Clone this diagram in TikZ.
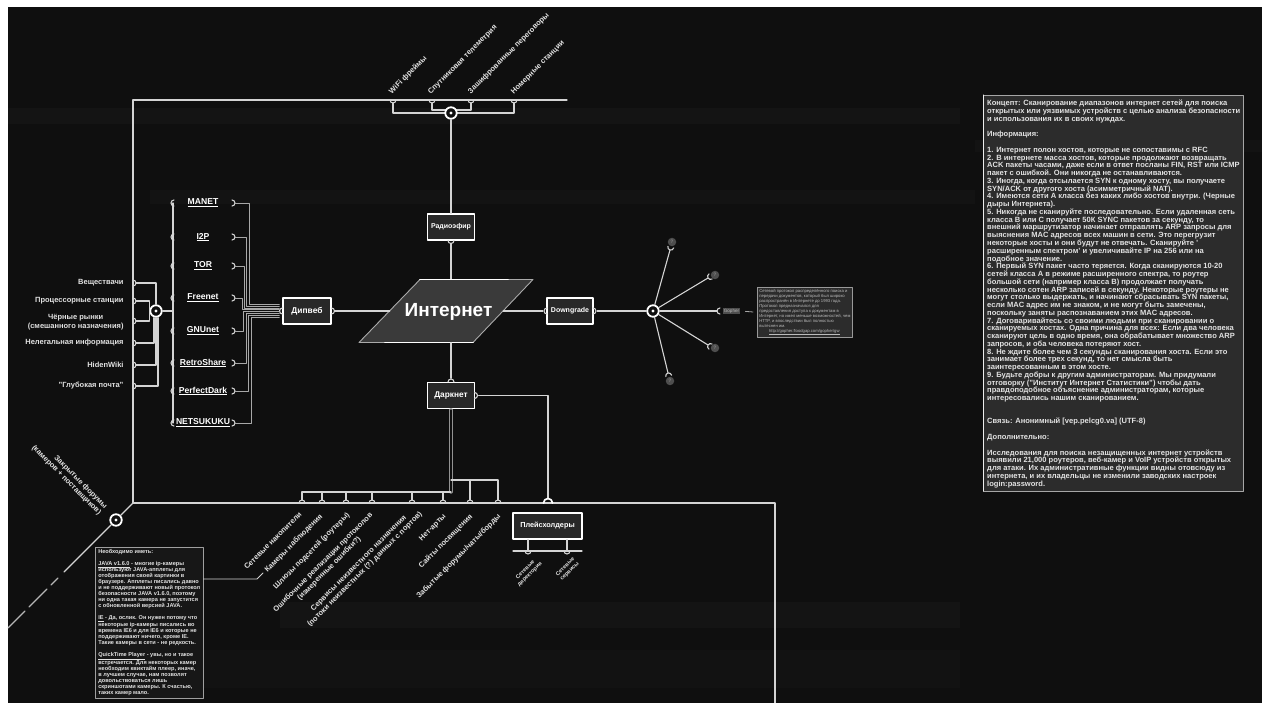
\documentclass[tikz,border=0pt]{standalone}
\usepackage{fontspec}
\setmainfont{Liberation Sans}
\usetikzlibrary{calc}
\definecolor{bg}{HTML}{0F0F0F}
\definecolor{lc}{HTML}{D4D4D4}
\definecolor{boxf}{HTML}{282828}
\definecolor{txt}{HTML}{E2E2E2}
\definecolor{panelf}{HTML}{2C2C2C}
\definecolor{needf}{HTML}{171717}
\definecolor{qc}{HTML}{4E4E4E}
\definecolor{bundle}{HTML}{A8A8A8}
\definecolor{inetf}{HTML}{3A3A3A}
\definecolor{gtx}{HTML}{BBBBBB}
\newcommand\hcR[2]{\draw[ln] (#1,#2-3) arc[start angle=-90,end angle=90,radius=3];}
\newcommand\hcL[2]{\draw[ln] (#1,#2-3) arc[start angle=-90,end angle=-270,radius=3];}
\newcommand\hcU[2]{\draw[ln] (#1-3,#2) arc[start angle=180,end angle=360,radius=3];}
\newcommand\hcD[2]{\draw[ln] (#1-3,#2) arc[start angle=180,end angle=0,radius=3];}
\newcommand\spk[2]{\draw[ln] (#1) ++(#2:3) ++(#2+90:3) arc[start angle=#2+90,end angle=#2+270,radius=3];}
\begin{document}
\begin{tikzpicture}[x=1pt,y=-1pt,line cap=round,line join=round,
  ln/.style={draw=lc,line width=1.1pt},
  bl/.style={draw=bundle,line width=0.85pt},
  boxn/.style={draw=white,line width=1.4pt,fill=boxf,text=white,inner sep=0pt,minimum height=26pt},
  lbl/.style={text=txt,inner sep=0.3pt,font=\bfseries\fontsize{7.5}{8.6}\selectfont},
  netl/.style={text=white,inner sep=0pt,font=\bfseries\fontsize{8.6}{9}\selectfont},
  hub/.style={circle,draw=white,line width=1.8pt,fill=bg,minimum size=11.5pt,inner sep=0pt},
  qm/.style={circle,fill=qc,minimum size=8.5pt,inner sep=0pt,text=gray,font=\bfseries\fontsize{5}{5}\selectfont}]
\useasboundingbox (0,0) rectangle (1262,703);
\fill[white] (0,0) rectangle (1262,703);
\fill[bg] (8,7) rectangle (1262,703);
% faint scan bands
\fill[white,opacity=0.022] (8,108) rectangle (960,124);
\fill[white,opacity=0.018] (150,190) rectangle (975,204);
\fill[white,opacity=0.022] (280,602) rectangle (960,628);
\fill[white,opacity=0.014] (150,650) rectangle (960,688);
\fill[white,opacity=0.018] (975,140) rectangle (1262,152);

% frame
\coordinate (fTL) at (133,100);
\coordinate (fTR) at (567,100);
\coordinate (fBL) at (133,503);
\coordinate (fBR) at (775,503);
\coordinate (fBE) at (775,703);
\draw[ln] (fTR) -- (fTL) -- (fBL) -- (fBR) -- (fBE);

% top bracket
\foreach \x in {393,432,471,514} {\hcD{\x}{100}}
\draw[ln] (393,103) -- (393,113) -- (514,113) -- (514,103);
\draw[ln] (432,103) -- (432,110) -- (471,110) -- (471,103);

% hubs
\node[hub] (hubT) at (451,113) {};
\node[hub] (hubL) at (156,311) {};
\node[hub] (hubR) at (653,311) {};
\node[hub] (hubD) at (116,520) {};
\foreach \h in {hubT,hubL,hubR,hubD} {\fill[white] (\h) circle[radius=1.7];}

% diagonal
\coordinate (d1) at (64,572);
\coordinate (d2) at (58,578);
\coordinate (d3) at (51,585);
\coordinate (d4) at (47,589);
\coordinate (d5) at (29,607);
\coordinate (d6) at (25,611);
\coordinate (d7) at (8,628);
\draw[ln] (fBL) -- (hubD);
\draw[ln] (hubD) -- (d1);
\draw[ln,draw opacity=0.85] (d2) -- (d3) (d4) -- (d5) (d6) -- (d7);
\node[lbl,rotate=-45,anchor=north east,align=right] (closed) at (109,505) {Закрытые форумы\\(камеров + поставщиков)};

% top labels
\node[lbl,rotate=45,anchor=south west] (t1) at (393,96) {WiFi фреймы};
\node[lbl,rotate=45,anchor=south west] (t2) at (432,96) {Спутниковая телеметрия};
\node[lbl,rotate=45,anchor=south west] (t3) at (472,96) {Зашифрованные переговоры};
\node[lbl,rotate=45,anchor=south west] (t4) at (515,96) {Номерные станции};

% radio
\node[boxn,minimum width=47pt,font=\bfseries\fontsize{7}{8}\selectfont] (radio) at (451,227) {Радиоэфир};
\hcD{451}{240.5}
\draw[ln] (hubT) -- (radio);

% internet
\node[inner sep=0pt,minimum width=113pt,minimum height=63pt] (inet) at (446.5,311) {};
\draw[ln] ([yshift=-3.5pt]radio.south) -- (radio.south |- inet.north);
\fill[inetf] (420,279.5) -- (533,279.5) -- (473,342.5) -- (359,342.5) -- cycle;
\draw[draw=lc!80!black,line width=0.9pt] (420,279.5) -- (533,279.5) -- (473,342.5) -- (359,342.5) -- cycle;
\draw[white,line width=1.8pt] (420,279.5) -- (508,279.5) (385,342.5) -- (473,342.5);
\node[anchor=base,inner sep=0pt,text=white,font=\bfseries\fontsize{19}{20}\selectfont] (inettext) at (448.5,317) {Интернет};

% boxes
\node[boxn,minimum width=48pt,font=\bfseries\fontsize{8.4}{9}\selectfont] (dip) at (307,311) {Дипвеб};
\hcL{282.5}{311} \hcR{331.5}{311}
\node[boxn,minimum width=46pt,font=\bfseries\fontsize{7}{8}\selectfont] (down) at (570,311) {Downgrade};
\hcL{547}{311} \hcR{593}{311}
\node[boxn,minimum width=47pt,font=\bfseries\fontsize{8.3}{9}\selectfont] (dark) at (451,395.5) {Даркнет};
\hcU{451}{382} \hcR{474.5}{395.5}

\draw[ln] ([xshift=3.5pt]dip.east) -- (inet.west);
\draw[ln] (inet.east) -- ([xshift=-3.5pt]down.west);
\draw[ln] (dark.north |- inet.south) -- ([yshift=3.5pt]dark.north);
\draw[ln] ([xshift=3.5pt]down.east) -- (hubR);

% darknet right branch
\coordinate (dk1) at (548,395.5);
\coordinate (hubB) at (548,503);
\draw[ln] ([xshift=3.5pt]dark.east) -- (dk1) -- ($(hubB)+(0,-4.5)$);
\draw[white,line width=1.7pt] ($(hubB)+(-4.5,0)$) arc[start angle=180,end angle=360,radius=4.5];

% darknet bottom comb
\coordinate (dkb) at (451,492);
\coordinate (c1) at (451,480);
\draw[draw=gray!85!white,line width=3.4pt] ([yshift=-0.7pt]dark.south) -- (dkb);
\draw[draw=bg,line width=1.1pt] ([yshift=-0.7pt]dark.south) -- (dkb);
\draw[ln] (c1) -- (498,480) -- (498,500);
\draw[ln] (470,480) -- (470,500);
\draw[ln] (dkb) -- (302,492) -- (302,500);
\foreach \x in {322,346,372,412,443} {\draw[ln] (\x,492) -- (\x,500);}
\foreach \x in {302,322,346,372,412,443,470,498} {\hcU{\x}{503}}

\node[lbl,rotate=45,anchor=north east,align=center] (b1) at (298.5,510.5) {Сетевые накопители};
\node[lbl,rotate=45,anchor=north east,align=center] (b2) at (319,512.5) {Камеры наблюдения};
\node[lbl,rotate=45,anchor=north east,align=center] (b3) at (346,511) {Шлюзы подсетей (роутеры)};
\node[lbl,rotate=45,anchor=north east,align=center] (b4) at (369,511) {Ошибочные реализации протоколов\\(измеренные ошибки?)};
\node[lbl,rotate=45,anchor=north east,align=center] (b5) at (412.6,504.2) {Сервисы неизвестного назначения\\(потоки неизвестных (?) данных с портов)};
\node[lbl,rotate=45,anchor=north east,align=center] (b6) at (442.5,512.5) {Нет-арты};
\node[lbl,rotate=45,anchor=north east,align=center] (b7) at (469,512.5) {Сайты посвящения};
\node[lbl,rotate=45,anchor=north east,align=center] (b8) at (497,512.5) {Забытые форумы/чаты/борды};

% placeholders
\node[boxn,minimum width=69pt,font=\bfseries\fontsize{7.3}{8}\selectfont] (ph) at (547.5,526) {Плейсхолдеры};
\coordinate (ph1) at (528,551);
\coordinate (ph2) at (567,551);
\coordinate (phL) at (513,551);
\coordinate (phR) at (582,551);
\draw[ln] (ph1 |- ph.south) -- (ph1);
\draw[ln] (ph2 |- ph.south) -- (ph2);
\draw[ln] (phL) -- (phR);
\hcD{528}{551} \hcD{567}{551}
\node[lbl,rotate=45,anchor=north east,align=center,font=\bfseries\fontsize{5.5}{6.3}\selectfont] (p1) at (535,556) {Сетевые\\директории};
\node[lbl,rotate=45,anchor=north east,align=center,font=\bfseries\fontsize{5.5}{6.3}\selectfont] (p2) at (572,556) {Сетевые\\сервисы};

% left labels
\foreach \y in {283,301,321,343,365,386} {\hcR{133}{\y}}
\node[lbl,anchor=east] (l1) at (124,283) {Веществачи};
\node[lbl,anchor=east] (l2) at (124,301) {Процессорные станции};
\node[lbl,anchor=east,align=center] (l3) at (124,322) {Чёрные рынки\\(смешанного назначения)};
\node[lbl,anchor=east] (l4) at (124,343) {Нелегальная информация};
\node[lbl,anchor=east] (l5) at (124,365) {HidenWiki};
\node[lbl,anchor=east] (l6) at (124,386) {"Глубокая почта"};
\draw[ln] (136,283) -| (hubL.north);
\draw[ln] (136,301) -| (hubL.west);
\draw[ln] (136,321) -| (hubL.west);
\draw[ln] (136,343) -| ([xshift=-2pt]hubL.south);
\draw[ln] (136,365) -| (hubL.south);
\draw[ln] (136,386) -| ([xshift=2pt]hubL.south);

% nets spine
\coordinate (spT) at (173,203);
\coordinate (spB) at (173,423);
\coordinate (spM) at (173,311);
\draw[ln] (spT) -- (spB);
\draw[ln] (hubL) -- (spM);
\foreach \nm/\tx/\yy/\xx/\of in {manet/MANET/203/249/-6.5, i2p/I2P/237/246.5/-4.7, tor/TOR/266/244.5/-2.9, freenet/Freenet/298/242/-1.1, gnunet/GNUnet/331/243.5/0.7, retro/RetroShare/363/246/2.5, perfect/PerfectDark/391/248.5/4.3, netsu/NETSUKUKU/423/251/6.1}{
  \node[netl] (\nm) at (203,\yy) {\underline{\tx}};
  \hcL{174}{\yy}
  \hcR{232}{\yy}
  \draw[bl] (235,\yy) -| (\xx,311+\of) -- ($(dip.west)+(-3,\of)$);
}

% gopher fan
\coordinate (g1) at (670,250);
\coordinate (g2) at (708,278);
\coordinate (g3) at (717,311);
\coordinate (g4) at (708,345);
\coordinate (g5) at (668,373);
\foreach \g in {g1,g2,g3,g4,g5} {\draw[ln] (hubR) -- (\g);}
\spk{g1}{-74.4} \spk{g2}{-31} \spk{g3}{0} \spk{g4}{31.7} \spk{g5}{76.4}
\node[qm] (q1) at (672,242) {?};
\node[qm] (q2) at (715,275) {?};
\node[qm] (q4) at (715,348) {?};
\node[qm] (q5) at (670,381) {?};
\node[fill=qc,inner sep=1pt,text=gtx,font=\fontsize{4.6}{5}\selectfont] (gopher) at (731.5,311) {Gopher};
\node[draw=gray!80,line width=0.6pt,fill=panelf,anchor=north west,align=left,inner sep=2pt,minimum width=95pt,minimum height=49pt,text=gtx,font=\fontsize{4.2}{5}\selectfont] (gdesc) at (757,287) {Сетевой протокол распределённого поиска и\\передачи документов, который был широко\\распространён в Интернете до 1993 года.\\Протокол предназначался для\\предоставления доступа к документам в\\Интернет, но имел меньше возможностей, чем\\HTTP, и впоследствии был полностью\\вытеснен им.\\\makebox[90pt][c]{\underline{http://gopher.floodgap.com/gopher/gw}}};
\draw[draw=gray!70,line width=0.8pt,shorten <=5pt,shorten >=4pt] (gopher.east) -- (gdesc.west);

% requirements box
\node[draw=gray!75,line width=0.6pt,fill=needf,anchor=north west,align=left,inner sep=2.2pt,minimum width=108pt,minimum height=151pt,text=txt,font=\bfseries\fontsize{5.6}{6}\selectfont] (need) at (95,547) {Необходимо иметь:\\\mbox{}\\\underline{JAVA v1.6.0} - многие ip-камеры\\используют JAVA-апплеты для\\отображения своей картинки в\\браузере. Апплеты писались давно\\и не поддерживают новый протокол\\безопасности JAVA v1.6.0, поэтому\\ни одна такая камера не запустится\\с обновленной версией JAVA.\\\mbox{}\\\underline{IE} - Да, ослик. Он нужен потому что\\некоторые ip-камеры писались во\\времена IE6 и для IE6 и которые не\\поддерживают ничего, кроме IE.\\Такие камеры в сети - не редкость.\\\mbox{}\\\underline{QuickTime Player} - увы, но и такое\\встречается. Для некоторых камер\\необходим квиктайм плеер, иначе,\\в лучшем случае, нам позволят\\довольствоваться лишь\\скриншотами камеры. К счастью,\\таких камер мало.};
\coordinate (camx) at (263,573);
\coordinate (needk) at (257,579);
\draw[ln,line width=0.8pt] ($(need.north east)+(0,32)$) -- (needk) -- (camx);

% right panel
\fill[panelf] (983,95) rectangle (1243,491);
\draw[draw=gray!70,line width=0.7pt] (983,95) rectangle (1243,491);
\draw[draw=white!85!gray,line width=1pt] (983,95) -- (983,491);
\node[anchor=north west,align=left,inner sep=0pt,text=txt,font=\bfseries\fontsize{7.55}{7.76}\selectfont] (paneltext) at (987,100) {Концепт: Сканирование диапазонов интернет сетей для поиска\\
открытых или уязвимых устройств с целью анализа безопасности\\
и использования их в своих нуждах.\\
\mbox{}\\
Информация:\\
\mbox{}\\
1. Интернет полон хостов, которые не сопоставимы с RFC\\
2. В интернете масса хостов, которые продолжают возвращать\\
ACK пакеты часами, даже если в ответ посланы FIN, RST или ICMP\\
пакет с ошибкой. Они никогда не останавливаются.\\
3. Иногда, когда отсылается SYN к одному хосту, вы получаете\\
SYN/ACK от другого хоста (асимметричный NAT).\\
4. Имеются сети А класса без каких либо хостов внутри. (Черные\\
дыры Интернета).\\
5. Никогда не сканируйте последовательно. Если удаленная сеть\\
класса В или С получает 50К SYNC пакетов за секунду, то\\
внешний маршрутизатор начинает отправлять ARP запросы для\\
выяснения MAC адресов всех машин в сети. Это перегрузит\\
некоторые хосты и они будут не отвечать. Сканируйте '\\
расширенным спектром' и увеличивайте IP на 256 или на\\
подобное значение.\\
6. Первый SYN пакет часто теряется. Когда сканируются 10-20\\
сетей класса А в режиме расширенного спектра, то роутер\\
большой сети (например класса В) продолжает получать\\
несколько сотен ARP записей в секунду. Некоторые роутеры не\\
могут столько выдержать, и начинают сбрасывать SYN пакеты,\\
если MAC адрес им не знаком, и не могут быть замечены,\\
поскольку заняты распознаванием этих MAC адресов.\\
7. Договаривайтесь со своими людьми при сканировании о\\
сканируемых хостах. Одна причина для всех: Если два человека\\
сканируют цель в одно время, она обрабатывает множество ARP\\
запросов, и оба человека потеряют хост.\\
8. Не ждите более чем 3 секунды сканирования хоста. Если это\\
занимает более трех секунд, то нет смысла быть\\
заинтересованным в этом хосте.\\
9. Будьте добры к другим администраторам. Мы придумали\\
отговорку ("Институт Интернет Статистики") чтобы дать\\
правдоподобное объяснение администраторам, которые\\
интересовались нашим сканированием.\\
\mbox{}\\
\mbox{}\\
Связь: Анонимный [vep.pelcg0.va] (UTF-8)\\
\mbox{}\\
Дополнительно:\\
\mbox{}\\
Исследования для поиска незащищенных интернет устройств\\
выявили 21,000 роутеров, веб-камер и VoIP устройств открытых\\
для атаки. Их административные функции видны отовсюду из\\
интернета, и их владельцы не изменили заводских настроек\\
login:password.};
\end{tikzpicture}
\end{document}
